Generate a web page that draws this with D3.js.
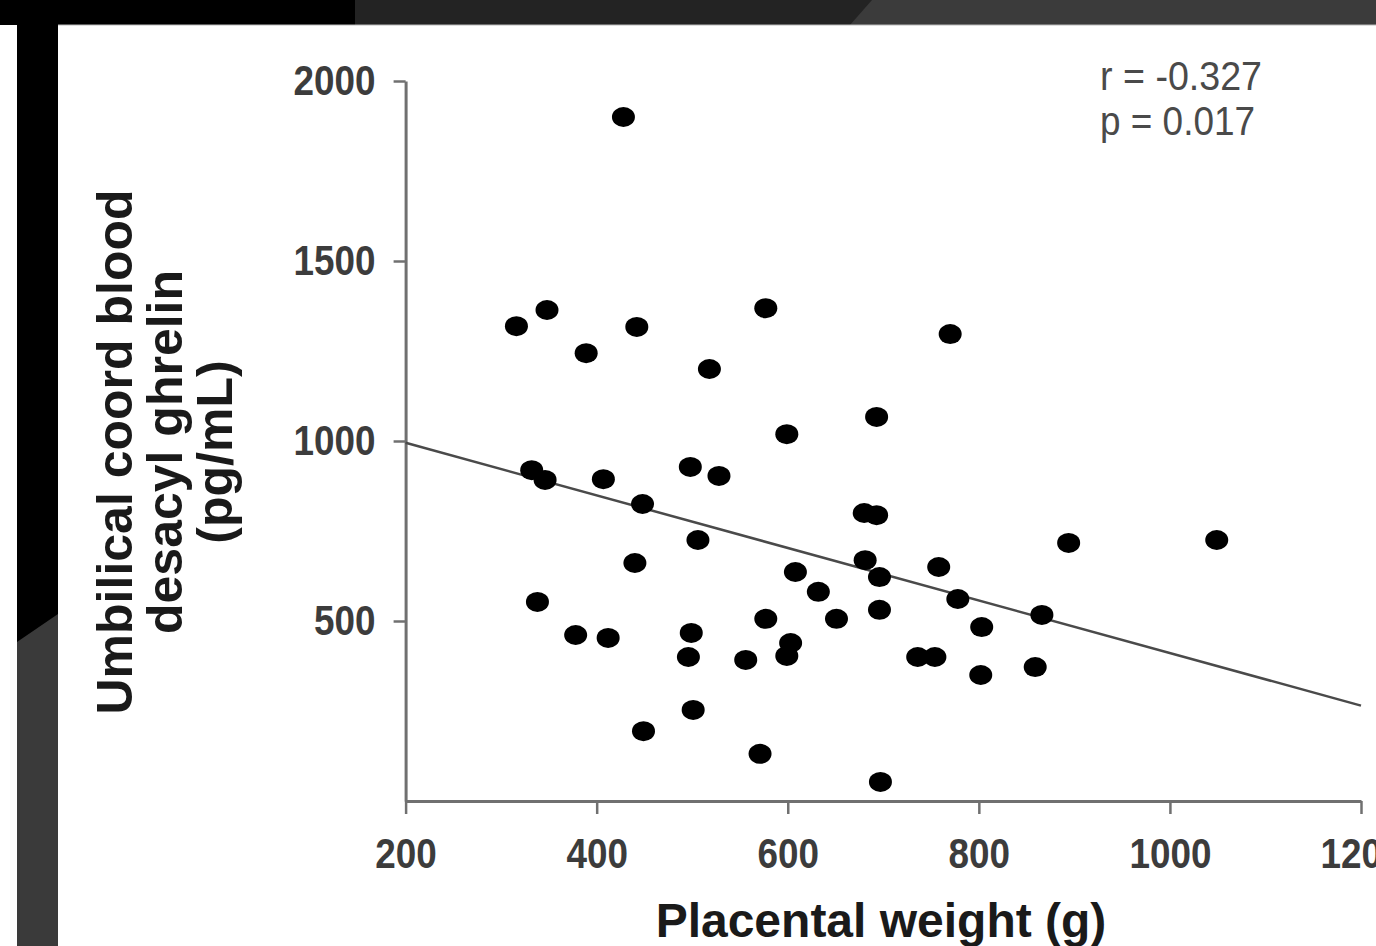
<!DOCTYPE html>
<html>
<head>
<meta charset="utf-8">
<script src="https://cdn.jsdelivr.net/npm/d3@7"></script>
<style>
  body { margin: 0; background: #fff; }
  svg { display: block; }
</style>
</head>
<body>
<svg id="chart" width="1376" height="946"></svg>
<script>
// placental weight (g) and cord blood desacyl ghrelin (pg/mL)
const weight = [428, 316, 348, 442, 389, 577, 518, 770, 599, 693,
  332, 346, 407, 498, 528, 448, 506, 440, 338, 378,
  412, 499, 496, 556, 577, 603, 599, 501, 449, 571,
  697, 608, 632, 651, 680, 693, 681, 696, 696, 758,
  778, 736, 754, 803, 802, 866, 859, 894, 1049];
const ghrelin = [1900, 1319, 1364, 1317, 1244, 1369, 1200, 1297, 1019, 1067,
  919, 892, 894, 928, 903, 825, 725, 661, 553, 461,
  453, 467, 400, 392, 506, 439, 403, 253, 194, 131,
  53, 636, 581, 506, 800, 794, 669, 622, 531, 650,
  561, 400, 400, 483, 350, 517, 372, 717, 725];

const fitX = [200, 1200];
const fitY = [995, 265];

const xTicks = [200, 400, 600, 800, 1000, 1200];
const yTicks = [500, 1000, 1500, 2000];
const statLines = ["r = -0.327", "p = 0.017"];
const yTitle = ["Umbilical coord blood", "desacyl ghrelin", "(pg/mL)"];

const svg = d3.select("#chart");

// slide frame: dark top band, black left band
svg.append("rect").attr("x", 0).attr("y", 0).attr("width", 1376).attr("height", 25).attr("fill", "#3b3b3b");
svg.append("path").attr("d", "M0,0 L872,0 L850,25 L0,25 Z").attr("fill", "#232323");
svg.append("rect").attr("x", 0).attr("y", 0).attr("width", 355).attr("height", 25).attr("fill", "#000");
svg.append("line").attr("x1", 58).attr("x2", 1376).attr("y1", 25).attr("y2", 25)
  .attr("stroke", "#bbb").attr("stroke-width", 1);
svg.append("rect").attr("x", 17).attr("y", 0).attr("width", 41).attr("height", 946).attr("fill", "#000");
svg.append("path").attr("d", "M17,642 L58,614 L58,946 L17,946 Z").attr("fill", "#3a3a3a");

const x = d3.scaleLinear().domain([200, 1200]).range([405.6, 1361]);
const y = d3.scaleLinear().domain([0, 2000]).range([801, 81]);

const axisColor = "#707070";
const tickFont = "'Liberation Sans', Arial, sans-serif";

// the original uses a condensed face, so squeeze the glyphs to about 20.5px per digit
const narrow = sel => sel
  .attr("font-family", tickFont).attr("font-size", 42).attr("font-weight", "bold")
  .attr("fill", "#3c3c3c")
  .attr("lengthAdjust", "spacingAndGlyphs")
  .attr("textLength", function () { return this.textContent.length * 20.5; });

svg.append("g")
  .attr("transform", "translate(405.6,0)")
  .call(d3.axisLeft(y).tickValues(yTicks).tickFormat(d3.format("d"))
    .tickSize(12).tickSizeOuter(0).tickPadding(18))
  .call(g => g.select(".domain").attr("stroke", axisColor).attr("stroke-width", 3))
  .call(g => g.selectAll(".tick line").attr("stroke", axisColor).attr("stroke-width", 2.5))
  .call(g => g.selectAll(".tick text").call(narrow));

svg.append("g")
  .attr("transform", "translate(0,801)")
  .call(d3.axisBottom(x).tickValues(xTicks).tickFormat(d3.format("d"))
    .tickSize(13).tickSizeOuter(0).tickPadding(24))
  .call(g => g.select(".domain").attr("stroke", axisColor).attr("stroke-width", 3))
  .call(g => g.selectAll(".tick line").attr("stroke", axisColor).attr("stroke-width", 2.5))
  .call(g => g.selectAll(".tick text").call(narrow));

// regression line
svg.append("line")
  .attr("x1", x(fitX[0])).attr("y1", y(fitY[0]))
  .attr("x2", x(fitX[1])).attr("y2", y(fitY[1]))
  .attr("stroke", "#4a4a4a").attr("stroke-width", 2.5);

// points
svg.append("g")
  .selectAll("ellipse")
  .data(weight.map((w, i) => [w, ghrelin[i]]))
  .join("ellipse")
  .attr("cx", d => x(d[0]))
  .attr("cy", d => y(d[1]))
  .attr("rx", 11.5)
  .attr("ry", 10)
  .attr("fill", "#000");

// r / p annotation
svg.append("g")
  .selectAll("text")
  .data(statLines)
  .join("text")
  .attr("x", 1100)
  .attr("y", (d, i) => 90 + i * 45)
  .attr("font-family", tickFont)
  .attr("font-size", 40)
  .attr("fill", "#4a4a4a")
  .attr("lengthAdjust", "spacingAndGlyphs")
  .attr("textLength", (d, i) => i === 0 ? 162 : 155)
  .text(d => d);

// axis titles
svg.append("text")
  .attr("x", 881).attr("y", 937)
  .attr("text-anchor", "middle")
  .attr("font-family", "'Liberation Sans', Arial, sans-serif")
  .attr("font-size", 48).attr("font-weight", "bold")
  .attr("fill", "#1a1a1a")
  .text("Placental weight (g)");

svg.append("g")
  .attr("transform", "translate(132,452) rotate(-90)")
  .selectAll("text")
  .data(yTitle)
  .join("text")
  .attr("x", 0)
  .attr("y", (d, i) => i * 50)
  .attr("text-anchor", "middle")
  .attr("font-family", "'Liberation Sans', Arial, sans-serif")
  .attr("font-size", 50).attr("font-weight", "bold")
  .attr("fill", "#1a1a1a")
  .text(d => d);
</script>
</body>
</html>
